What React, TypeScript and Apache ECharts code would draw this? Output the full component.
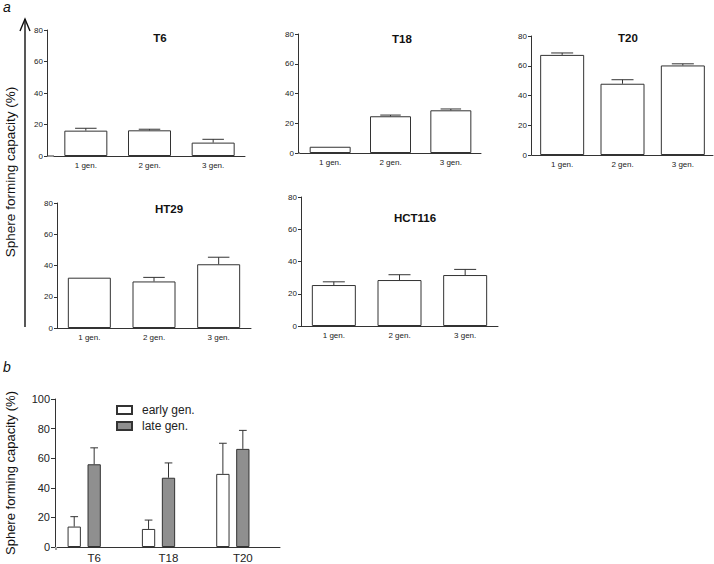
import React, { useEffect, useRef } from 'react';
import * as echarts from 'echarts';

// ---- data ----
const generations = ['1 gen.', '2 gen.', '3 gen.'];
const t6Mean = [16.1, 16.3, 8.5];
const t6Err = [1.5, 0.7, 2.1];
const t18Mean = [4.2, 24.7, 28.7];
const t18Err = [0, 0.8, 0.9];
const t20Mean = [67.3, 47.9, 60.2];
const t20Err = [1.3, 2.7, 1.1];
const ht29Mean = [32.2, 29.8, 40.8];
const ht29Err = [0, 2.6, 4.5];
const hct116Mean = [25.4, 28.5, 31.6];
const hct116Err = [2.0, 3.3, 3.5];

const cellLines = ['T6', 'T18', 'T20'];
const earlyMean = [13.8, 12.2, 49.4];
const earlyErr = [6.7, 6.0, 20.7];
const lateMean = [55.9, 46.8, 66.3];
const lateErr = [11.1, 10.0, 12.5];

const yTitle = 'Sphere forming capacity (%)';

// ---- styles ----
const AXIS = '#333';
const TEXT = '#222';
const FONT = '"Liberation Sans", Arial, sans-serif';

// ---- layout of panel a ----
const panelsA = [
  { title: 'T6', mean: t6Mean, err: t6Err, left: 54, width: 191, top: 30, height: 126, offset: 7, barWidth: 43, tx: 160, ty: 38 },
  { title: 'T18', mean: t18Mean, err: t18Err, left: 300, width: 181, top: 34, height: 119, offset: 2, barWidth: 41, tx: 402, ty: 39 },
  { title: 'T20', mean: t20Mean, err: t20Err, left: 532, width: 181, top: 36, height: 119, offset: 1, barWidth: 44, tx: 628, ty: 38 },
  { title: 'HT29', mean: ht29Mean, err: ht29Err, left: 57, width: 194, top: 203, height: 125, offset: 0, barWidth: 43, tx: 169, ty: 209 },
  { title: 'HCT116', mean: hct116Mean, err: hct116Err, left: 301, width: 197, top: 197, height: 129, offset: 0, barWidth: 44, tx: 415, ty: 218 },
];

// ---- layout of panel b ----
const B = { left: 57, width: 223, top: 399, height: 150, offset: 2, barWidth: 13.3 };
const B_GAP = B.barWidth * 0.5;

function errorRenderer(capWidth: number, offsetPx: number) {
  return (params: any, api: any) => {
    const i = api.value(0);
    const m = api.value(1);
    const e = api.value(2);
    if (!e) return { type: 'group', children: [] };
    const p0 = api.coord([i, m]);
    const p1 = api.coord([i, m + e]);
    const x = p0[0] + offsetPx;
    const h = capWidth / 2;
    const st = { stroke: AXIS, lineWidth: 1 };
    return {
      type: 'group',
      children: [
        { type: 'line', shape: { x1: x, y1: p0[1], x2: x, y2: p1[1] }, style: st },
        { type: 'line', shape: { x1: x - h, y1: p1[1], x2: x + h, y2: p1[1] }, style: st },
      ],
    };
  };
}

function buildOption() {
  const grid: any[] = [];
  const xAxis: any[] = [];
  const yAxis: any[] = [];
  const series: any[] = [];
  const graphic: any[] = [];

  panelsA.forEach((p, k) => {
    grid.push({ left: p.left, width: p.width, top: p.top, height: p.height });
    xAxis.push({
      type: 'category', gridIndex: k, data: generations,
      axisLine: { lineStyle: { color: AXIS, width: 1 } },
      axisTick: { alignWithLabel: true, length: 3, lineStyle: { color: AXIS } },
      axisLabel: { fontSize: 8, color: TEXT, margin: 5, fontFamily: FONT },
    });
    yAxis.push({
      type: 'value', gridIndex: k, min: 0, max: 80, interval: 20, offset: p.offset,
      splitLine: { show: false },
      axisLine: { show: true, lineStyle: { color: AXIS, width: 1 } },
      axisTick: { show: true, length: 3, lineStyle: { color: AXIS } },
      axisLabel: { fontSize: 8, color: TEXT, margin: 4, fontFamily: FONT },
    });
    series.push({
      type: 'bar', xAxisIndex: k, yAxisIndex: k, data: p.mean, barWidth: p.barWidth, silent: true,
      itemStyle: { color: '#fff', borderColor: AXIS, borderWidth: 1 },
    });
    series.push({
      type: 'custom', xAxisIndex: k, yAxisIndex: k, silent: true, z: 3,
      data: p.mean.map((m, i) => [i, m, p.err[i]]),
      encode: { x: 0, y: 1 },
      renderItem: errorRenderer(p.barWidth / 2, 0),
    });
    if (p.offset > 0) {
      graphic.push({
        type: 'line', silent: true,
        shape: { x1: p.left - p.offset, y1: p.top + p.height, x2: p.left, y2: p.top + p.height },
        style: { stroke: AXIS, lineWidth: 1 },
      });
    }
    graphic.push({
      type: 'text', x: p.tx, y: p.ty, silent: true,
      style: { text: p.title, fontSize: 11.5, fontWeight: 'bold', fill: '#111', fontFamily: FONT, align: 'center', verticalAlign: 'middle' },
    });
  });

  // panel b
  const kb = panelsA.length;
  grid.push({ left: B.left, width: B.width, top: B.top, height: B.height });
  xAxis.push({
    type: 'category', gridIndex: kb, data: cellLines,
    axisLine: { lineStyle: { color: AXIS, width: 1 } },
    axisTick: { alignWithLabel: true, length: 4, lineStyle: { color: AXIS } },
    axisLabel: { fontSize: 11.5, color: TEXT, margin: 5, fontFamily: FONT },
  });
  yAxis.push({
    type: 'value', gridIndex: kb, min: 0, max: 100, interval: 20, offset: B.offset,
    splitLine: { show: false },
    axisLine: { show: true, lineStyle: { color: AXIS, width: 1 } },
    axisTick: { show: true, length: 4, lineStyle: { color: AXIS } },
    axisLabel: { fontSize: 11, color: TEXT, margin: 5, fontFamily: FONT },
  });
  series.push({
    name: 'early gen.', type: 'bar', xAxisIndex: kb, yAxisIndex: kb, data: earlyMean,
    barWidth: B.barWidth, barGap: '50%', silent: true,
    itemStyle: { color: '#fff', borderColor: AXIS, borderWidth: 1 },
  });
  series.push({
    name: 'late gen.', type: 'bar', xAxisIndex: kb, yAxisIndex: kb, data: lateMean,
    barWidth: B.barWidth, barGap: '50%', silent: true,
    itemStyle: { color: '#8f8f8f', borderColor: AXIS, borderWidth: 1 },
  });
  // empty slot so that each tick sits under the late-generation bar
  series.push({
    name: 'slot', type: 'bar', xAxisIndex: kb, yAxisIndex: kb, data: cellLines.map(() => null),
    barWidth: B.barWidth, barGap: '50%', silent: true, itemStyle: { color: 'transparent' },
  });
  series.push({
    type: 'custom', xAxisIndex: kb, yAxisIndex: kb, silent: true, z: 3,
    data: earlyMean.map((m, i) => [i, m, earlyErr[i]]), encode: { x: 0, y: 1 },
    renderItem: errorRenderer(B.barWidth * 0.58, -(B.barWidth + B_GAP)),
  });
  series.push({
    type: 'custom', xAxisIndex: kb, yAxisIndex: kb, silent: true, z: 3,
    data: lateMean.map((m, i) => [i, m, lateErr[i]]), encode: { x: 0, y: 1 },
    renderItem: errorRenderer(B.barWidth * 0.58, 0),
  });
  if (B.offset > 0) {
    graphic.push({
      type: 'line', silent: true,
      shape: { x1: B.left - B.offset, y1: B.top + B.height, x2: B.left, y2: B.top + B.height },
      style: { stroke: AXIS, lineWidth: 1 },
    });
  }

  // shared annotations
  graphic.push(
    { type: 'text', x: 3, y: 0, silent: true, style: { text: 'a', fontSize: 14, fontStyle: 'italic', fill: '#111', fontFamily: FONT, verticalAlign: 'top' } },
    { type: 'text', x: 3, y: 360, silent: true, style: { text: 'b', fontSize: 14, fontStyle: 'italic', fill: '#111', fontFamily: FONT, verticalAlign: 'top' } },
    { type: 'line', silent: true, shape: { x1: 25, y1: 19, x2: 25, y2: 327 }, style: { stroke: '#111', lineWidth: 1.4 } },
    { type: 'polyline', silent: true, shape: { points: [[20, 31], [25, 19], [30, 31]] }, style: { stroke: '#111', lineWidth: 1.4, fill: 'none' } },
    { type: 'text', x: 10, y: 172, rotation: Math.PI / 2, silent: true, style: { text: yTitle, fontSize: 13.5, fill: '#111', fontFamily: FONT, align: 'center', verticalAlign: 'middle' } },
    { type: 'text', x: 10, y: 473, rotation: Math.PI / 2, silent: true, style: { text: yTitle, fontSize: 13, fill: '#111', fontFamily: FONT, align: 'center', verticalAlign: 'middle' } },
  );

  return {
    animation: false,
    backgroundColor: '#fff',
    textStyle: { fontFamily: FONT },
    grid, xAxis, yAxis, series, graphic,
    legend: {
      data: ['early gen.', 'late gen.'], orient: 'vertical', left: 111, top: 399,
      itemWidth: 15, itemHeight: 8, itemGap: 4, icon: 'rect', selectedMode: false,
      textStyle: { fontSize: 12, color: TEXT, fontFamily: FONT, padding: [0, 0, 0, 5] },
    },
  };
}

export default function App() {
  const ref = useRef<HTMLDivElement>(null);
  useEffect(() => {
    if (!ref.current) return;
    const chart = echarts.init(ref.current, undefined, { renderer: 'svg' });
    chart.setOption(buildOption() as any);
    return () => chart.dispose();
  }, []);
  return <div ref={ref} style={{ position: 'absolute', left: 0, top: 0, width: 714, height: 564 }} />;
}
